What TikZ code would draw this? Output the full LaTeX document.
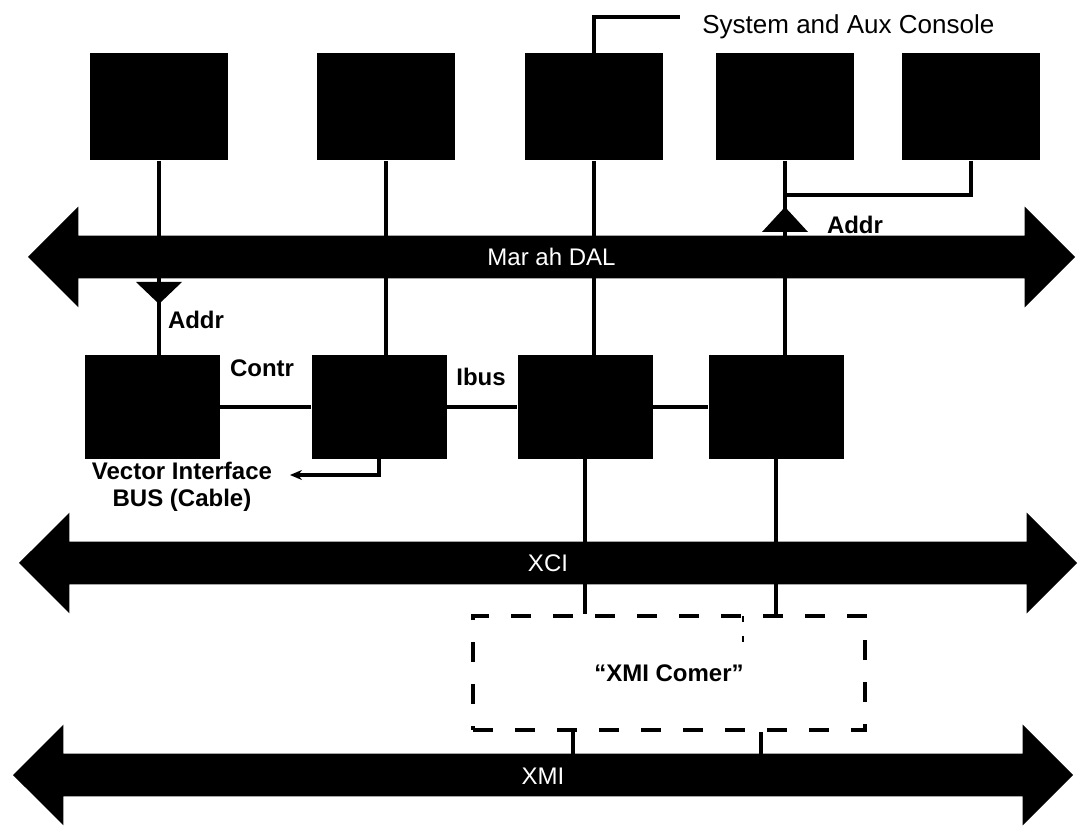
\documentclass[tikz,border=0pt]{standalone}
\usepackage{fontspec}
\setmainfont{Liberation Sans}
\usetikzlibrary{arrows.meta,shapes.arrows,calc}

\begin{document}
\begin{tikzpicture}[x=0.5pt,y=-0.5pt,
      font=\fontsize{12}{13.5}\selectfont, >={Stealth[length=6pt,width=5pt]},
      unit/.style={rectangle,fill=black,inner sep=0pt,minimum width=69pt,minimum height=53.5pt},
      low/.style={unit,minimum width=67.5pt,minimum height=52pt},
      bus/.style={double arrow,fill=black,text=white,inner xsep=0pt,inner ysep=6pt,
                  text height=9pt,text depth=0pt,double arrow head extend=14.5pt,
                  double arrow tip angle=90},
      lbl/.style={font=\fontsize{12}{13.5}\selectfont\bfseries,inner sep=1pt},
      corner/.style={draw,line width=2pt,dash pattern=on 10pt off 11pt,
                  minimum width=196pt,minimum height=57pt,inner sep=0pt,
                  font=\fontsize{12}{13.5}\selectfont\bfseries},
      ln/.style={line width=1.6pt}]

    \useasboundingbox[fill=white] (0,0) rectangle (1078,834);

    \node[unit] (A) at (159,107) {};
    \node[unit] (B) at (386,107) {};
    \node[unit] (C) at (594,107) {};
    \node[unit] (D) at (785,107) {};
    \node[unit] (E) at (971,107) {};
    \node[low] (F) at (152,407) {};
    \node[low] (G) at (379,407) {};
    \node[low] (H) at (585,407) {};
    \node[low] (I) at (776,407) {};
    \node[corner] (xc) at (669,673) {``XMI Comer''};

    \node[anchor=west,inner sep=0pt,font=\fontsize{13}{15}\selectfont] (con) at (702,27) {System and Aux Console};
    \node[lbl] (ad1) at (196,320) {Addr};
    \node[lbl] (ad2) at (855,225) {Addr};
    \node[lbl] (ctr) at (262,368) {Contr};
    \node[lbl] (ibs) at (481,377) {Ibus};
    \node[lbl,align=center] (vib) at (182,487) {Vector Interface\\BUS (Cable)};

    \coordinate (cn) at (680,17);
    \coordinate (ej) at (785,195);
    \coordinate (vt) at (290,475);
    \coordinate (xa) at (573,0);
    \coordinate (xb) at (761,0);

    \draw[ln] (C.north) |- (cn);
    \draw[ln] (A.south) -- (A.south |- F.north);
    \draw[ln] (B.south) -- (B.south |- G.north);
    \draw[ln] (C.south) -- (C.south |- H.north);
    \draw[ln] (D.south) -- (D.south |- I.north);
    \draw[ln] (E.south) |- (ej);
    \draw[ln] (F.east) -- (G.west);
    \draw[ln] (G.east) -- (H.west);
    \draw[ln] (H.east) -- (I.west);
    \draw[ln,->] (G.south) |- (vt);
    \draw[ln] (H.south) -- (H.south |- xc.north);
    \draw[ln] (I.south) -- (I.south |- xc.north);
    \draw[ln] (xa |- xc.south) -- (xa |- 0,775);
    \draw[ln] (xb |- xc.south) -- (xb |- 0,775);
    \draw[line width=1.2pt,dash pattern=on 3pt off 7pt] (743,616) -- (743,652);

    \fill (136,282) -- (182,282) -- (159,304) -- cycle;
    \fill (762,232) -- (808,232) -- (785,207) -- cycle;

    \node[bus,minimum height=523.5pt] (MD) at (551.5,257) {Mar ah DAL};
    \node[bus,minimum height=529pt] (XC) at (548,563) {XCI};
    \node[bus,minimum height=530pt] (XM) at (543,775) {XMI};
\end{tikzpicture}
\end{document}
